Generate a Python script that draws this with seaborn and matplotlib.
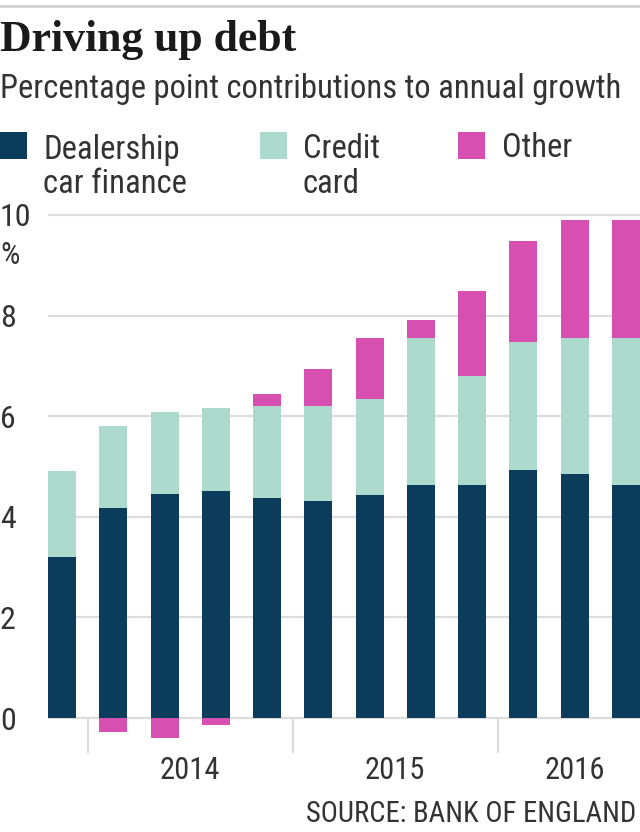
import numpy as np
import pandas as pd
import matplotlib
matplotlib.use("Agg")
import matplotlib.pyplot as plt
from matplotlib import font_manager
from matplotlib.patches import Rectangle
from matplotlib.lines import Line2D
import seaborn as sns

# ---- data ----
quarters = ["2013 Q4", "2014 Q1", "2014 Q2", "2014 Q3", "2014 Q4",
            "2015 Q1", "2015 Q2", "2015 Q3", "2015 Q4",
            "2016 Q1", "2016 Q2", "2016 Q3"]
years = ["2013", "2014", "2014", "2014", "2014", "2015", "2015", "2015", "2015",
         "2016", "2016", "2016"]
dealership = [3.21, 4.18, 4.45, 4.52, 4.37, 4.32, 4.43, 4.63, 4.63, 4.94, 4.86, 4.63]
credit_card = [1.71, 1.63, 1.63, 1.65, 1.83, 1.88, 1.91, 2.92, 2.17, 2.54, 2.69, 2.92]
other = [0.00, -0.28, -0.39, -0.14, 0.24, 0.74, 1.21, 0.36, 1.69, 2.00, 2.35, 2.35]
year_labels = ["2014", "2015", "2016"]
series_names = ["Dealership\ncar finance", "Credit\ncard", "Other"]
yticks = [0, 2, 4, 6, 8, 10]

C_DEAL = "#0c3c5c"
C_CRED = "#acdbcd"
C_OTH = "#d64fb1"
TXT = "#333333"
GRID = "#dcdcdc"

sns.set_theme(style="white")

names = {f.name for f in font_manager.fontManager.ttflist}
cond_family = None
cond_stretch = "normal"
for cand in ["Liberation Sans Narrow", "Roboto Condensed", "Open Sans Condensed"]:
    if cand in names:
        cond_family = cand
        break
if cond_family is None:
    cond_family = "DejaVu Sans"
    cond_stretch = "condensed"
plt.rcParams["font.family"] = [cond_family, "DejaVu Sans"]

df = pd.DataFrame({"quarter": quarters, "year": years,
                   "dealer": dealership, "credit": credit_card, "other": other})
df["credit_bottom"] = df["dealer"]
df["other_bottom"] = np.where(df["other"] >= 0, df["dealer"] + df["credit"], 0.0)

W, H = 640, 832
fig = plt.figure(figsize=(W / 100, H / 100), dpi=100)
fig.patch.set_facecolor("white")

FS = 23.5

# axes geometry (pixels)
ylo, yhi = -0.45, 10.05
y0_px, y10_px = 718, 215
ppu = (y0_px - y10_px) / 10.0
ax_top = y10_px - (yhi - 10) * ppu
ax_bot = y0_px - ylo * ppu
ax_left = 48
ax = fig.add_axes([ax_left / W, 1 - ax_bot / H, (W - ax_left) / W, (ax_bot - ax_top) / H])

bw = 0.55
common = dict(x="quarter", order=quarters, width=bw, saturation=1, linewidth=0,
              edgecolor="none", ax=ax, errorbar=None, zorder=3)
sns.barplot(data=df, y="dealer", color=C_DEAL, **common)
sns.barplot(data=df, y="credit", bottom=df["credit_bottom"], color=C_CRED, **common)
sns.barplot(data=df, y="other", bottom=df["other_bottom"], color=C_OTH, **common)

n = len(quarters)
ax.set_xlim(-bw / 2, n - 1 + bw / 2)
ax.set_ylim(ylo, yhi)
ax.set_xlabel("")
ax.set_ylabel("")
ax.set_xticks([])
for s in ax.spines.values():
    s.set_visible(False)

ax.set_yticks(yticks)
ax.set_yticklabels([str(t) for t in yticks])
ax.yaxis.grid(True, color=GRID, linewidth=1.6, zorder=0)
ax.set_axisbelow(True)
ax.tick_params(axis="y", length=0, pad=ax_left * 0.72, labelsize=23, labelcolor=TXT)
for lab in ax.get_yticklabels():
    lab.set_horizontalalignment("left")
    lab.set_fontstretch(cond_stretch)

# year separators and labels
yr = np.array(years)
bounds = [i - 0.5 for i in range(1, n) if yr[i] != yr[i - 1]]
ax.vlines(bounds, 0, -0.7, colors=GRID, linewidth=1.6, clip_on=False, zorder=0)
for y in year_labels:
    idx = np.where(yr == y)[0]
    ax.annotate(y, xy=(idx.mean(), 0), xycoords="data",
                xytext=(0, -(779 - 718) * 0.72), textcoords="offset points",
                ha="center", va="baseline", fontsize=22, color=TXT,
                fontstretch=cond_stretch, annotation_clip=False)

# header
fig.add_artist(Line2D([0, 1], [1 - 6 / H] * 2, color="#d3d3d3", linewidth=2))
fig.text(0, 1 - 51 / H, "Driving up debt", fontsize=31.5, fontweight="bold",
         family=["Liberation Serif", "DejaVu Serif"], color="#1a1a1a", va="baseline")
fig.text(0, 1 - 98 / H, "Percentage point contributions to annual growth",
         fontsize=FS, color=TXT, va="baseline", fontstretch=cond_stretch)

# legend
sq = 27
for (x_sq, x_txt), col, name in zip([(0, 43), (260, 303), (458, 502)],
                                    [C_DEAL, C_CRED, C_OTH], series_names):
    fig.add_artist(Rectangle((x_sq / W, 1 - 159 / H), sq / W, sq / H,
                             transform=fig.transFigure, facecolor=col, edgecolor="none"))
    last_base = 193 if "\n" in name else 157
    fig.text(x_txt / W, 1 - last_base / H, name, fontsize=FS, color=TXT, va="baseline",
             linespacing=1.1, fontstretch=cond_stretch)

fig.text(0, 1 - 256 / H, "%", fontsize=22, color=TXT, va="center",
         fontstretch=cond_stretch)
fig.text(636 / W, 1 - 822 / H, "SOURCE: BANK OF ENGLAND", fontsize=20.6, color=TXT,
         ha="right", va="baseline", fontstretch=cond_stretch)

fig.savefig("out.png", dpi=100, facecolor="white")
